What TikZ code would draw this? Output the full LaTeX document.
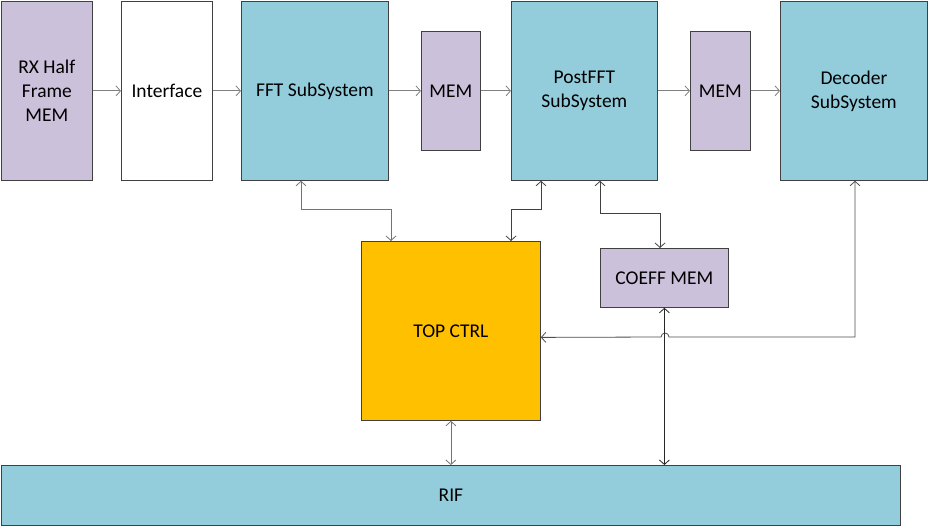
\documentclass[tikz,border=0pt]{standalone}
\usepackage{fontspec}
\setmainfont{Carlito}
\usetikzlibrary{arrows.meta,calc}
\definecolor{lav}{HTML}{CCC1DA}
\definecolor{teal}{HTML}{93CDDC}
\definecolor{gold}{HTML}{FFC000}
\definecolor{edge}{HTML}{404040}
\begin{document}
\begin{tikzpicture}[x=1pt,y=-1pt,
  blk/.style={draw=edge,line width=0.8pt,anchor=north west,align=center,font=\fontsize{19.5}{24}\selectfont,inner sep=0pt},
  conn/.style={line width=0.8pt,draw=#1,{Straight Barb[length=4.5pt,width=10pt]}-{Straight Barb[length=4.5pt,width=10pt]}},
  conn/.default={black!75},
  fwd/.style={line width=0.8pt,draw=gray,-{Straight Barb[length=4.5pt,width=10pt]}}]
\useasboundingbox (0,0) rectangle (929,526);
\node[blk,fill=lav,minimum width=91pt,minimum height=179pt] (rx) at (1,1) {RX Half\\Frame\\MEM};
\node[blk,fill=white,minimum width=91pt,minimum height=179pt] (iface) at (121,1) {Interface};
\node[blk,fill=teal,minimum width=147pt,minimum height=179pt] (fft) at (241,1) {FFT SubSystem};
\node[blk,fill=lav,minimum width=59pt,minimum height=119pt] (mem1) at (421,31) {MEM};
\node[blk,fill=teal,minimum width=146pt,minimum height=179pt] (post) at (511,1) {PostFFT\\SubSystem};
\node[blk,fill=lav,minimum width=60pt,minimum height=119pt] (mem2) at (690,31) {MEM};
\node[blk,fill=teal,minimum width=147pt,minimum height=179pt] (dec) at (780,1) {Decoder\\SubSystem};
\node[blk,fill=gold,minimum width=179pt,minimum height=179pt] (ctrl) at (361,241) {TOP CTRL};
\node[blk,fill=lav,minimum width=128pt,minimum height=59pt] (coeff) at (600,248) {COEFF MEM};
\node[blk,fill=teal,minimum width=899pt,minimum height=60pt] (rif) at (1,465) {RIF};
\draw[fwd] (rx.east) -- (iface.west);
\draw[fwd] (iface.east) -- (fft.west);
\draw[fwd] (fft.east) -- (mem1.west);
\draw[fwd] (mem1.east) -- (post.west);
\draw[fwd] (post.east) -- (mem2.west);
\draw[fwd] (mem2.east) -- (dec.west);
\draw[conn=gray!90!black] ([xshift=60pt]fft.south west) -- ++(0,-29pt) -| ([xshift=30pt]ctrl.north west);
\draw[conn] ([xshift=30pt]post.south west) -- ++(0,-29pt) -| ([xshift=150pt]ctrl.north west);
\draw[conn] ([xshift=89pt]post.south west) -- ++(0,-33pt) -| ([xshift=60pt]coeff.north west);
\coordinate (hop) at (665,337);
\draw[conn=gray!60!black] ([xshift=75pt]dec.south west) |- ([xshift=4pt]hop) arc[start angle=0,end angle=180,radius=4pt] -- ([yshift=-6.5pt]ctrl.east);
\draw[conn=black!85] (coeff.south) -- (coeff.south |- rif.north);
\draw[conn=gray!90!black] (ctrl.south) -- (ctrl.south |- rif.north);
\end{tikzpicture}
\end{document}
